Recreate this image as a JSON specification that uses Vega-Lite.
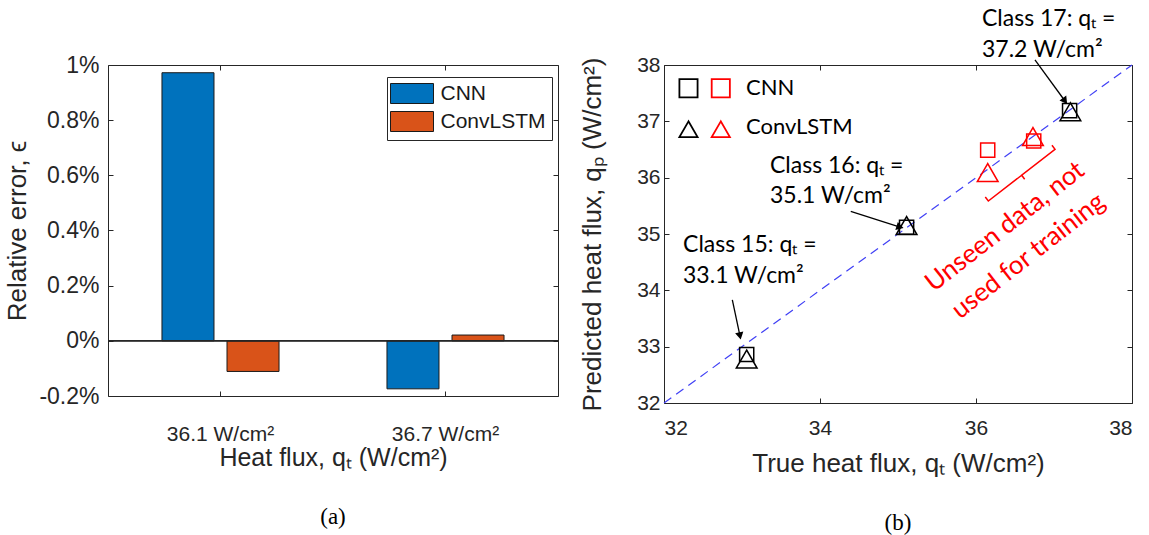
{
  "$schema": "https://vega.github.io/schema/vega-lite/v6.json",
  "background": "white",
  "padding": {"left": 4, "top": 7, "right": 5, "bottom": 5},
  "bounds": "flush",
  "spacing": 106,
  "resolve": {"scale": {"color": "independent", "shape": "independent", "size": "independent"}, "legend": {"color": "independent"}},
  "config": {
    "font": "Liberation Sans",
    "view": {"stroke": "#262626", "strokeWidth": 1},
    "axis": {
      "grid": false,
      "domain": false,
      "tickColor": "#262626",
      "tickSize": -5,
      "labelColor": "#262626",
      "titleColor": "#262626",
      "titleFontWeight": "normal",
      "labelFont": "Liberation Sans",
      "titleFont": "Liberation Sans"
    },
    "title": {"font": "Liberation Serif", "fontSize": 23, "fontWeight": "normal", "color": "black"}
  },
  "datasets": {
    "bars": [
      {"flux": "36.1 W/cm²", "model": "CNN", "err": 0.972},
      {"flux": "36.1 W/cm²", "model": "ConvLSTM", "err": -0.111},
      {"flux": "36.7 W/cm²", "model": "CNN", "err": -0.174},
      {"flux": "36.7 W/cm²", "model": "ConvLSTM", "err": 0.021}
    ],
    "points": [
      {"qt": 33.06, "qp": 32.86, "model": "CNN", "set": "trained"},
      {"qt": 33.06, "qp": 32.78, "model": "ConvLSTM", "set": "trained"},
      {"qt": 35.11, "qp": 35.12, "model": "CNN", "set": "trained"},
      {"qt": 35.11, "qp": 35.15, "model": "ConvLSTM", "set": "trained"},
      {"qt": 37.2, "qp": 37.19, "model": "CNN", "set": "trained"},
      {"qt": 37.21, "qp": 37.17, "model": "ConvLSTM", "set": "trained"},
      {"qt": 36.15, "qp": 36.49, "model": "CNN", "set": "unseen"},
      {"qt": 36.15, "qp": 36.09, "model": "ConvLSTM", "set": "unseen"},
      {"qt": 36.74, "qp": 36.65, "model": "CNN", "set": "unseen"},
      {"qt": 36.73, "qp": 36.73, "model": "ConvLSTM", "set": "unseen"}
    ],
    "diag": [{"qt": 32, "qp": 32}, {"qt": 38, "qp": 38}],
    "bracket": [
      {"i": 1, "qt": 36.119, "qp": 35.657},
      {"i": 2, "qt": 36.158, "qp": 35.586},
      {"i": 3, "qt": 36.586, "qp": 36.044},
      {"i": 4, "qt": 36.624, "qp": 35.973},
      {"i": 5, "qt": 36.586, "qp": 36.044},
      {"i": 6, "qt": 37.013, "qp": 36.503},
      {"i": 7, "qt": 36.974, "qp": 36.575}
    ],
    "arrows": [
      {"cls": "15", "x1": 32.876, "y1": 33.83, "x2": 32.974, "y2": 33.19},
      {"cls": "16", "x1": 34.394, "y1": 35.4, "x2": 35.026, "y2": 35.124},
      {"cls": "17", "x1": 36.756, "y1": 38.089, "x2": 37.141, "y2": 37.361}
    ],
    "notes": [
      {"qt": 32.244, "qp": 34.8, "label": "Class 15: qₜ ="},
      {"qt": 32.244, "qp": 34.255, "label": "33.1 W/cm²"},
      {"qt": 33.359, "qp": 36.212, "label": "Class 16: qₜ ="},
      {"qt": 33.359, "qp": 35.68, "label": "35.1 W/cm²"},
      {"qt": 36.077, "qp": 38.817, "label": "Class 17: qₜ ="},
      {"qt": 36.077, "qp": 38.266, "label": "37.2 W/cm²"}
    ],
    "rednotes": [
      {"qt": 36.372, "qp": 35.13, "label": "Unseen data, not"},
      {"qt": 36.671, "qp": 34.609, "label": "used for training"}
    ],
    "legsym": [
      {"qt": 32.314, "qp": 37.588, "model": "CNN", "set": "trained"},
      {"qt": 32.728, "qp": 37.588, "model": "CNN", "set": "unseen"},
      {"qt": 32.314, "qp": 36.86, "model": "ConvLSTM", "set": "trained"},
      {"qt": 32.728, "qp": 36.86, "model": "ConvLSTM", "set": "unseen"}
    ],
    "legtext": [
      {"qt": 33.051, "qp": 37.59, "label": "CNN"},
      {"qt": 33.051, "qp": 36.905, "label": "ConvLSTM"}
    ]
  },
  "hconcat": [
    {
      "width": 450,
      "height": 331,
      "title": {"text": "(a)", "orient": "bottom", "frame": "group", "anchor": "middle", "offset": 36},
      "data": {"name": "bars"},
      "layer": [
        {
          "layer": [
            {
              "mark": {"type": "bar", "stroke": "#1a1a1a", "strokeWidth": 1},
              "encoding": {
                "x": {
                  "field": "flux", "type": "nominal", "sort": null,
                  "scale": {"paddingInner": 0, "paddingOuter": 0},
                  "axis": {"title": "Heat flux, qₜ (W/cm²)", "labelAngle": 0, "labelFontSize": 21, "titleFontSize": 25, "labelPadding": 32, "titlePadding": 1}
                },
                "xOffset": {"field": "model", "type": "nominal", "scale": {"paddingInner": 0.2, "paddingOuter": 0.83}},
                "y": {
                  "field": "err", "type": "quantitative",
                  "scale": {"domain": [-0.2, 1], "nice": false, "zero": false},
                  "axis": {
                    "title": "Relative error, ϵ",
                    "values": [-0.2, 0, 0.2, 0.4, 0.6, 0.8, 1],
                    "labelExpr": "datum.value < 0 ? '-' + format(-datum.value, '.1~f') + '%' : format(datum.value, '.1~f') + '%'",
                    "labelFontSize": 23, "titleFontSize": 26, "labelPadding": 14, "titlePadding": 8
                  }
                },
                "color": {
                  "field": "model", "type": "nominal",
                  "scale": {"domain": ["CNN", "ConvLSTM"], "range": ["#0072BD", "#D95319"]},
                  "legend": {
                    "orient": "none", "legendX": 279, "legendY": 12, "title": null,
                    "symbolType": "M-2.15,-1H2.15V1H-2.15Z", "symbolSize": 400,
                    "symbolOffset": 8.5,
                    "symbolStrokeColor": "#1a1a1a", "symbolStrokeWidth": 1, "symbolOpacity": 1,
                    "labelFont": "Liberation Sans", "labelFontSize": 21, "labelColor": "#1a1a1a",
                    "strokeColor": "#262626", "fillColor": "white", "padding": 6,
                    "rowPadding": 3, "labelOffset": 18
                  }
                }
              }
            },
            {
              "mark": {"type": "rule", "color": "#262626", "strokeWidth": 1},
              "encoding": {"y": {"datum": 0, "type": "quantitative"}}
            }
          ]
        },
        {
          "mark": {"type": "point", "opacity": 0},
          "encoding": {
            "x": {"field": "flux", "type": "nominal", "sort": null, "axis": {"orient": "top", "labels": false, "title": null}},
            "y": {"field": "err", "type": "quantitative", "axis": {"orient": "right", "labels": false, "title": null, "values": [-0.2, 0, 0.2, 0.4, 0.6, 0.8, 1]}}
          }
        }
      ],
      "resolve": {"axis": {"x": "independent", "y": "independent"}}
    },
    {
      "width": 468,
      "height": 338,
      "title": {"text": "(b)", "orient": "bottom", "frame": "group", "anchor": "middle", "offset": 36},
      "layer": [
        {
          "layer": [
            {
              "data": {"name": "diag"},
              "mark": {"type": "line", "color": "#3f3ff5", "strokeWidth": 1.2, "strokeDash": [9, 6]},
              "encoding": {
                "x": {"field": "qt", "type": "quantitative", "scale": {"domain": [32, 38], "nice": false, "zero": false},
                  "axis": {"title": "True heat flux, qₜ (W/cm²)", "values": [32, 34, 36, 38], "format": "d", "labelFontSize": 21, "titleFontSize": 26, "labelPadding": 19, "titlePadding": 12}},
                "y": {"field": "qp", "type": "quantitative", "scale": {"domain": [32, 38], "nice": false, "zero": false},
                  "axis": {"title": "Predicted heat flux, qₚ (W/cm²)", "values": [32, 33, 34, 35, 36, 37, 38], "format": "d", "labelFontSize": 21, "titleFontSize": 26, "labelPadding": 9, "titlePadding": 31}}
              }
            },
            {
              "data": {"name": "bracket"},
              "mark": {"type": "line", "color": "#ff0000", "strokeWidth": 1.5},
              "encoding": {
                "x": {"field": "qt", "type": "quantitative"},
                "y": {"field": "qp", "type": "quantitative"},
                "order": {"field": "i", "type": "quantitative"}
              }
            },
            {
              "data": {"name": "arrows"},
              "mark": {"type": "rule", "color": "black", "strokeWidth": 1.3},
              "encoding": {
                "x": {"field": "x1", "type": "quantitative"},
                "y": {"field": "y1", "type": "quantitative"},
                "x2": {"field": "x2"},
                "y2": {"field": "y2"}
              }
            },
            {
              "data": {"name": "arrows"},
              "transform": [{"filter": "datum.cls == '15'"}],
              "mark": {"type": "point", "shape": "triangle-up", "filled": true, "color": "black", "opacity": 1, "size": 70, "angle": 168},
              "encoding": {"x": {"field": "x2", "type": "quantitative"}, "y": {"field": "y2", "type": "quantitative"}}
            },
            {
              "data": {"name": "arrows"},
              "transform": [{"filter": "datum.cls == '16'"}],
              "mark": {"type": "point", "shape": "triangle-up", "filled": true, "color": "black", "opacity": 1, "size": 70, "angle": 107},
              "encoding": {"x": {"field": "x2", "type": "quantitative"}, "y": {"field": "y2", "type": "quantitative"}}
            },
            {
              "data": {"name": "arrows"},
              "transform": [{"filter": "datum.cls == '17'"}],
              "mark": {"type": "point", "shape": "triangle-up", "filled": true, "color": "black", "opacity": 1, "size": 70, "angle": 144},
              "encoding": {"x": {"field": "x2", "type": "quantitative"}, "y": {"field": "y2", "type": "quantitative"}}
            },
            {
              "data": {"name": "points"},
              "mark": {"type": "point", "filled": false, "strokeWidth": 1.5, "opacity": 1},
              "encoding": {
                "x": {"field": "qt", "type": "quantitative"},
                "y": {"field": "qp", "type": "quantitative"},
                "shape": {"field": "model", "type": "nominal", "scale": {"domain": ["CNN", "ConvLSTM"], "range": ["square", "triangle-up"]}, "legend": null},
                "color": {"field": "set", "type": "nominal", "scale": {"domain": ["trained", "unseen"], "range": ["#000000", "#ff0000"]}, "legend": null},
                "size": {"field": "model", "type": "nominal", "scale": {"domain": ["CNN", "ConvLSTM"], "range": [200, 430]}, "legend": null}
              }
            },
            {
              "data": {"name": "legsym"},
              "mark": {"type": "point", "filled": false, "strokeWidth": 1.8, "opacity": 1},
              "encoding": {
                "x": {"field": "qt", "type": "quantitative"},
                "y": {"field": "qp", "type": "quantitative"},
                "shape": {"field": "model", "type": "nominal", "legend": null},
                "color": {"field": "set", "type": "nominal", "legend": null},
                "size": {"value": 330}
              }
            },
            {
              "data": {"name": "legtext"},
              "mark": {"type": "text", "align": "left", "baseline": "middle", "font": "Lato", "fontSize": 22, "color": "black"},
              "encoding": {
                "x": {"field": "qt", "type": "quantitative"},
                "y": {"field": "qp", "type": "quantitative"},
                "text": {"field": "label"}
              }
            },
            {
              "data": {"name": "notes"},
              "mark": {"type": "text", "align": "left", "baseline": "middle", "font": "Lato", "fontSize": 23, "color": "black"},
              "encoding": {
                "x": {"field": "qt", "type": "quantitative"},
                "y": {"field": "qp", "type": "quantitative"},
                "text": {"field": "label"}
              }
            },
            {
              "data": {"name": "rednotes"},
              "mark": {"type": "text", "align": "center", "baseline": "middle", "font": "Lato", "fontSize": 26, "color": "#ff0000", "angle": 322},
              "encoding": {
                "x": {"field": "qt", "type": "quantitative"},
                "y": {"field": "qp", "type": "quantitative"},
                "text": {"field": "label"}
              }
            }
          ]
        },
        {
          "data": {"name": "diag"},
          "mark": {"type": "point", "opacity": 0},
          "encoding": {
            "x": {"field": "qt", "type": "quantitative", "axis": {"orient": "top", "labels": false, "title": null, "values": [32, 34, 36, 38]}},
            "y": {"field": "qp", "type": "quantitative", "axis": {"orient": "right", "labels": false, "title": null, "values": [32, 33, 34, 35, 36, 37, 38]}}
          }
        }
      ],
      "resolve": {"axis": {"x": "independent", "y": "independent"}}
    }
  ]
}
